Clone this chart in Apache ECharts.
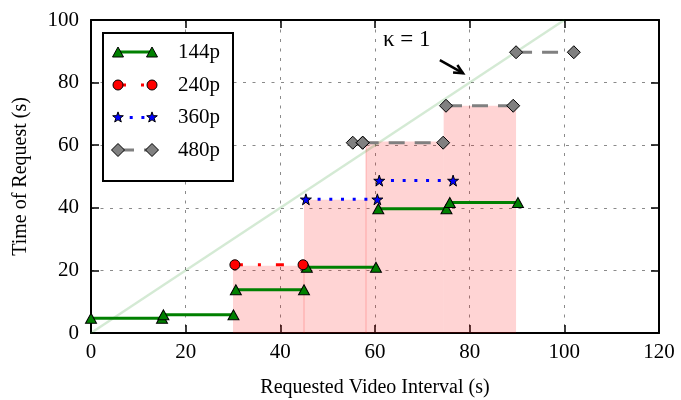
<!DOCTYPE html>
<html><head><meta charset="utf-8">
<script src="https://cdn.jsdelivr.net/npm/echarts@6/dist/echarts.min.js"></script>
<style>html,body{margin:0;padding:0;background:#fff}#c{width:681px;height:400px}</style>
</head><body><div id="c"></div>
<script>
// ---- data ----
const xTicks = [0, 20, 40, 60, 80, 100, 120];
const yTicks = [0, 20, 40, 60, 80, 100];

const q144Start = [0, 15.3, 30.6, 45.6, 60.7, 75.8];
const q144End   = [15, 30.1, 45, 60.2, 75.1, 90.2];
const q144Time  = [4.7, 5.8, 13.8, 21.0, 39.7, 41.7];

const q240Start = [30.4];
const q240End   = [44.8];
const q240Time  = [21.8];

const q360Start = [45.4, 60.9];
const q360End   = [60.5, 76.5];
const q360Time  = [42.7, 48.7];

const q480Start = [55.3, 57.4, 75.0, 89.8];
const q480End   = [57.4, 74.4, 89.2, 102.0];
const q480Time  = [60.8, 60.8, 72.6, 89.7];

const bufStart = [30, 45, 58.1, 74.5];
const bufEnd   = [45, 58.1, 74.5, 89.8];
const bufTop   = [21.5, 42.6, 61.2, 72.6];

const edgeX   = [45, 58.1];
const edgeTop = [21.5, 61.2];

const kappaX = [0, 100];
const kappaY = [0, 100];

const annotText = 'κ = 1';
const annotTextAt = [66.7, 93.6];
const arrowFrom = [73.7, 87.2];
const arrowTo   = [78.6, 83.0];

const legendLabels = ['144p', '240p', '360p', '480p'];

// ---- styles ----
const FONT = '"Liberation Serif", "Times New Roman", serif';
const STAR = 'path://M50,0 L61.8,35.1 L98.5,35.1 L68.8,56.8 L79.9,91.6 L50,70 L20.1,91.6 L31.2,56.8 L1.5,35.1 L38.2,35.1 Z';
const qStyles = [
  {color:'#008000', symbol:'triangle', size:[11,10], dash:'solid'},
  {color:'#ff0000', symbol:'circle', size:10, dash:[8,15,3,15]},
  {color:'#0000ff', symbol:STAR, size:11, dash:[3,8.7]},
  {color:'#808080', symbol:'diamond', size:[13,13], dash:[16,10]}
];

function segSeries(starts, ends, times, st, z, name){
  return starts.map((s,i)=>({
    type:'line', name, data:[[s,times[i]],[ends[i],times[i]]],
    symbol:st.symbol, symbolSize:st.size, showSymbol:true, showAllSymbol:true,
    itemStyle:{color:st.color, borderColor:'#000', borderWidth:1},
    lineStyle:{color:st.color, width:3, type:st.dash, cap:'butt'},
    z, animation:false, silent:true, clip:false
  }));
}

const series = [];
series.push({
  type:'custom', z:1, silent:true, animation:false,
  data: bufStart.map((s,i)=>[s, bufEnd[i], bufTop[i]]),
  encode:{x:[0,1], y:2},
  renderItem(params, api){
    const p0 = api.coord([api.value(0), api.value(2)]);
    const p1 = api.coord([api.value(1), 0]);
    return {type:'rect', shape:{x:p0[0], y:p0[1], width:p1[0]-p0[0], height:p1[1]-p0[1]},
      style:{fill:'rgba(255,0,0,0.17)'}};
  }
});
series.push({
  type:'custom', z:1, silent:true, animation:false,
  data: edgeX.map((x,i)=>[x, edgeTop[i]]),
  encode:{x:0, y:1},
  renderItem(params, api){
    const p0 = api.coord([api.value(0), api.value(1)]);
    const p1 = api.coord([api.value(0), 0]);
    return {type:'line', shape:{x1:p0[0], y1:p0[1], x2:p1[0], y2:p1[1]},
      style:{stroke:'rgba(255,0,0,0.22)', lineWidth:1}};
  }
});
series.push({
  type:'line', data: kappaX.map((x,i)=>[x, kappaY[i]]), symbol:'none', z:1,
  lineStyle:{color:'rgba(0,128,0,0.17)', width:2.5}, animation:false, silent:true
});
series.push(...segSeries(q144Start, q144End, q144Time, qStyles[0], 3, '144p'));
series.push(...segSeries(q240Start, q240End, q240Time, qStyles[1], 4, '240p'));
series.push(...segSeries(q360Start, q360End, q360Time, qStyles[2], 5, '360p'));
series.push(...segSeries(q480Start, q480End, q480Time, qStyles[3], 6, '480p'));
series.push({
  type:'custom', z:7, silent:true, animation:false,
  data: [[annotTextAt[0], annotTextAt[1], arrowFrom[0], arrowFrom[1], arrowTo[0], arrowTo[1]]],
  encode:{x:[0,2,4], y:[1,3,5]},
  renderItem(params, api){
    const t = api.coord([api.value(0), api.value(1)]);
    const a = api.coord([api.value(2), api.value(3)]);
    const b = api.coord([api.value(4), api.value(5)]);
    const ang = Math.atan2(b[1]-a[1], b[0]-a[0]);
    const L = 10, w = 0.45;
    const h1 = [b[0]-L*Math.cos(ang-w), b[1]-L*Math.sin(ang-w)];
    const h2 = [b[0]-L*Math.cos(ang+w), b[1]-L*Math.sin(ang+w)];
    return {type:'group', children:[
      {type:'text', style:{text:annotText, x:t[0], y:t[1], align:'center', verticalAlign:'middle',
        font:'23px ' + FONT, fill:'#000'}},
      {type:'line', shape:{x1:a[0], y1:a[1], x2:b[0], y2:b[1]}, style:{stroke:'#000', lineWidth:2.5}},
      {type:'polyline', shape:{points:[h1, b, h2]}, style:{stroke:'#000', lineWidth:2.5, fill:null}}
    ]};
  }
});

// ---- legend (drawn as graphic) ----
const lgRows = [52, 85, 117.5, 150];
const lgX0 = 118, lgX1 = 152, lgTextX = 178;
function markerEl(i, cx, cy){
  const st = qStyles[i];
  const base = {style:{fill:st.color, stroke:'#000', lineWidth:1}, z:101};
  if (i===0) return Object.assign({type:'polygon', shape:{points:[[cx,cy-5],[cx+5.5,cy+5],[cx-5.5,cy+5]]}}, base);
  if (i===1) return Object.assign({type:'circle', shape:{cx, cy, r:5}}, base);
  if (i===2){
    const pts=[]; for(let k=0;k<10;k++){const r=k%2?2.3:5.6; const a=-Math.PI/2+k*Math.PI/5; pts.push([cx+r*Math.cos(a), cy+r*Math.sin(a)]);}
    return Object.assign({type:'polygon', shape:{points:pts}}, base);
  }
  return Object.assign({type:'polygon', shape:{points:[[cx,cy-6.5],[cx+6.5,cy],[cx,cy+6.5],[cx-6.5,cy]]}}, base);
}
const graphic = [{type:'rect', shape:{x:103, y:33, width:130, height:148},
  style:{fill:'#fff', stroke:'#000', lineWidth:2}, z:100}];
legendLabels.forEach((lab,i)=>{
  const y = lgRows[i], st = qStyles[i];
  graphic.push({type:'line', shape:{x1:lgX0, y1:y, x2:lgX1, y2:y}, z:101,
    style:{stroke:st.color, lineWidth:3, lineDash: st.dash==='solid'?null:st.dash, lineCap:'butt'}});
  graphic.push(markerEl(i, lgX0, y));
  graphic.push(markerEl(i, lgX1, y));
  graphic.push({type:'text', z:101, style:{text:lab, x:lgTextX, y:y, verticalAlign:'middle',
    font:'21px ' + FONT, fill:'#000'}});
});

// ---- axes ----
const axisLineStyle = {lineStyle:{color:'#000', width:2}, onZero:false};
const tickStyle = {inside:true, length:8, lineStyle:{color:'#000', width:1.5}};
const gridLine = {show:true, lineStyle:{color:'#8a8a8a', width:1, type:[3,6.5]}};

const option = {
  animation:false,
  backgroundColor:'#fff',
  grid:{left:91, right:22, top:20, bottom:67, outerBoundsMode:'none', containLabel:false},
  xAxis:[
    {type:'value', min:xTicks[0], max:xTicks[xTicks.length-1], interval:xTicks[1]-xTicks[0], position:'bottom',
     axisLine:axisLineStyle, axisTick:tickStyle, splitLine:gridLine,
     axisLabel:{fontFamily:FONT, fontSize:21, color:'#000', margin:9},
     name:'Requested Video Interval (s)', nameLocation:'middle', nameGap:45,
     nameTextStyle:{fontFamily:FONT, fontSize:20, color:'#000'}},
    {type:'value', min:xTicks[0], max:xTicks[xTicks.length-1], interval:xTicks[1]-xTicks[0], position:'top',
     axisLine:axisLineStyle, axisTick:tickStyle, splitLine:{show:false}, axisLabel:{show:false}}
  ],
  yAxis:[
    {type:'value', min:yTicks[0], max:yTicks[yTicks.length-1], interval:yTicks[1]-yTicks[0], position:'left',
     axisLine:axisLineStyle, axisTick:tickStyle, splitLine:gridLine,
     axisLabel:{fontFamily:FONT, fontSize:21, color:'#000', margin:12},
     name:'Time of Request (s)', nameLocation:'middle', nameGap:60,
     nameTextStyle:{fontFamily:FONT, fontSize:20, color:'#000'}},
    {type:'value', min:yTicks[0], max:yTicks[yTicks.length-1], interval:yTicks[1]-yTicks[0], position:'right',
     axisLine:axisLineStyle, axisTick:tickStyle, splitLine:{show:false}, axisLabel:{show:false}}
  ],
  series,
  graphic
};
const chart = echarts.init(document.getElementById('c'));
chart.setOption(option);
</script>
</body></html>
